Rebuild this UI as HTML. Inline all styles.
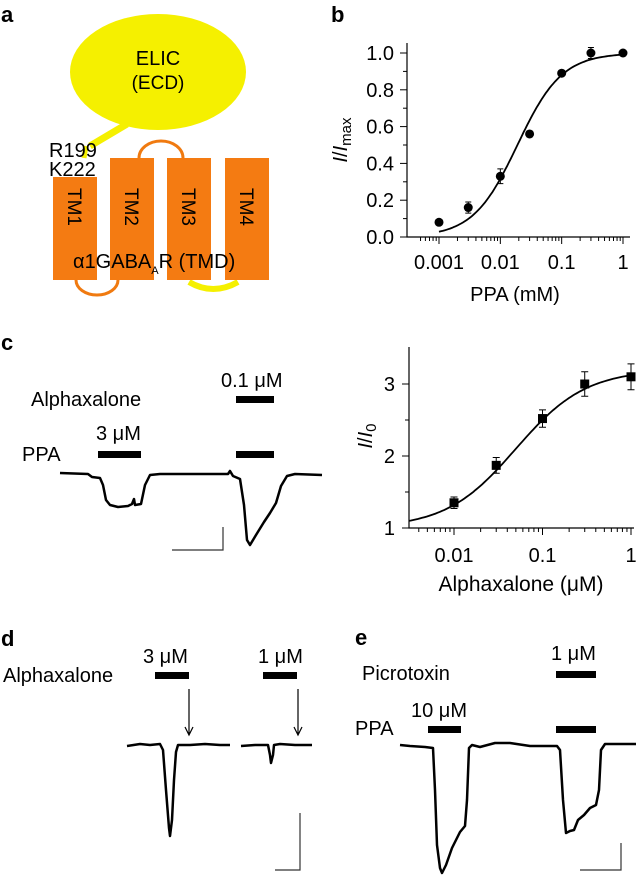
<!DOCTYPE html>
<html><head><meta charset="utf-8"><style>
body{margin:0;background:#fff;}
svg{display:block;font-family:"Liberation Sans",sans-serif;}
</style></head><body>
<svg id="fig" width="636" height="877" viewBox="0 0 636 877" xmlns="http://www.w3.org/2000/svg">
<!-- Panel a -->
<g>
<text x="1" y="22" font-size="22" font-weight="bold">a</text>
<path d="M127,124 L90,146" stroke="#f5f000" stroke-width="7" fill="none"/>
<path d="M86,146 L84,158" stroke="#f5f000" stroke-width="5" fill="none"/>
<ellipse cx="158" cy="72" rx="88" ry="58" fill="#f5f000"/>
<text x="158" y="65" font-size="20" text-anchor="middle">ELIC</text>
<text x="158" y="89" font-size="19" text-anchor="middle">(ECD)</text>
<path d="M139,158 A22,17 0 0 1 183,158" stroke="#f07a10" stroke-width="3" fill="none"/>
<path d="M76,280 A21,15 0 0 0 118,280" stroke="#f07a10" stroke-width="3" fill="none"/>
<path d="M189,282 Q213,296 238,282" stroke="#f5f000" stroke-width="6" fill="none"/>
<rect x="53" y="177" width="44" height="103" fill="#f47b12"/>
<rect x="110" y="158" width="44" height="122" fill="#f47b12"/>
<rect x="167" y="158" width="44" height="122" fill="#f47b12"/>
<rect x="225" y="158" width="44" height="122" fill="#f47b12"/>
<text transform="translate(68,207) rotate(90)" font-size="19" text-anchor="middle">TM1</text>
<text transform="translate(125,207) rotate(90)" font-size="19" text-anchor="middle">TM2</text>
<text transform="translate(182,207) rotate(90)" font-size="19" text-anchor="middle">TM3</text>
<text transform="translate(240,207) rotate(90)" font-size="19" text-anchor="middle">TM4</text>
<text x="49" y="157" font-size="20">R199</text>
<text x="49" y="176" font-size="20">K222</text>
<text x="73" y="268" font-size="20">α1GABA<tspan font-size="11" dy="6">A</tspan><tspan dy="-6">R (TMD)</tspan></text>
</g>
<!-- Panel b -->
<g id="pb">
<text x="331" y="22" font-size="22" font-weight="bold">b</text>
<text transform="translate(347,140) rotate(-90)" font-size="20" text-anchor="middle"><tspan font-style="italic">I</tspan>/<tspan font-style="italic">I</tspan><tspan font-size="15" dy="4">max</tspan></text>
<text x="515" y="301" font-size="20" text-anchor="middle">PPA (mM)</text>
</g>
<!-- Panel c -->
<g>
<text x="1" y="350" font-size="22" font-weight="bold">c</text>
<text x="31" y="406" font-size="20">Alphaxalone</text>
<text x="221" y="387" font-size="20">0.1 μM</text>
<text x="96" y="440" font-size="20">3 μM</text>
<text x="22" y="461" font-size="20">PPA</text>
<rect x="236" y="396" width="38" height="7" fill="#000"/>
<rect x="98" y="451" width="43" height="7" fill="#000"/>
<rect x="236" y="451" width="38" height="7" fill="#000"/>
<polyline fill="none" stroke="#000" stroke-width="2.5" stroke-linejoin="round"
points="60,473 88,474 92,477 100,478 103,485 106,500 110,505 118,507 128,506 132,504 134,499 135,505 141,504 145,485 150,475 160,474 200,474 228,474 230,471 233,476 240,479 244,505 247,540 250,545 256,535 264,522 270,513 276,503 281,486 287,476 295,474 322,475"/>
<path d="M172,550 L223,550 L223,527" stroke="#333" stroke-width="1.2" fill="none"/>
<g id="pc">
<text transform="translate(372,436) rotate(-90)" font-size="20" text-anchor="middle"><tspan font-style="italic">I</tspan>/<tspan font-style="italic">I</tspan><tspan font-size="15" dy="4">0</tspan></text>
<text x="521" y="591" font-size="21" text-anchor="middle">Alphaxalone (μM)</text>
</g>
</g>
<!-- Panel d -->
<g>
<text x="1" y="646" font-size="22" font-weight="bold">d</text>
<text x="3" y="682" font-size="20">Alphaxalone</text>
<text x="143" y="663" font-size="20">3 μM</text>
<text x="258" y="663" font-size="20">1 μM</text>
<rect x="155" y="672" width="34" height="7" fill="#000"/>
<rect x="263" y="672" width="34" height="7" fill="#000"/>
<path d="M189,689 L189,734 M185,727 L189,735 L193,727" stroke="#000" stroke-width="1.2" fill="none"/>
<path d="M298,689 L298,734 M294,727 L298,735 L302,727" stroke="#000" stroke-width="1.2" fill="none"/>
<polyline fill="none" stroke="#000" stroke-width="2.5" stroke-linejoin="round"
points="127,746 140,744 150,745 160,744 163,750 166,790 169,828 170,836 172,820 174,780 176,752 178,745 190,745 205,744 220,745 230,745"/>
<polyline fill="none" stroke="#000" stroke-width="2.5" stroke-linejoin="round"
points="241,746 255,745 268,745 270,755 271,763 273,755 274,745 280,744 295,745 312,745"/>
<path d="M275,870 L300,870 L300,813" stroke="#333" stroke-width="1.2" fill="none"/>
</g>
<!-- Panel e -->
<g>
<text x="355" y="645" font-size="22" font-weight="bold">e</text>
<text x="362" y="680" font-size="20">Picrotoxin</text>
<text x="551" y="660" font-size="20">1 μM</text>
<text x="411" y="717" font-size="20">10 μM</text>
<text x="355" y="735" font-size="20">PPA</text>
<rect x="556" y="671" width="40" height="7" fill="#000"/>
<rect x="428" y="726" width="33" height="7" fill="#000"/>
<rect x="556" y="726" width="40" height="7" fill="#000"/>
<polyline fill="none" stroke="#000" stroke-width="2.5" stroke-linejoin="round"
points="400,745 410,746 425,747 433,748 435,790 437,845 440,868 442,873 446,865 452,848 460,832 465,826 467,800 469,748 472,745 480,747 495,743 510,743 530,746 557,746 560,750 563,800 566,833 570,831 574,830 578,820 584,815 590,808 596,805 599,790 601,750 605,744 620,744 636,744"/>
<path d="M580,870 L621,870 L621,843" stroke="#333" stroke-width="1.2" fill="none"/>
</g>
</svg>
<script>
const NS="http://www.w3.org/2000/svg";
// Panel b data
const bConc=[0.001,0.003,0.01,0.03,0.1,0.3,1];
const bResp=[0.08,0.16,0.33,0.56,0.89,1.0,1.0];
const bErr=[0.01,0.03,0.04,0.01,0.01,0.03,0.01];
const bYTicks=["0.0","0.2","0.4","0.6","0.8","1.0"];
const bXTicks=["0.001","0.01","0.1","1"];
const bFit=[0.019,1.2];
// Panel c data
const cConc=[0.01,0.03,0.1,0.3,1];
const cResp=[1.35,1.87,2.52,3.0,3.1];
const cErr=[0.08,0.11,0.12,0.17,0.18];
const cYTicks=["1","2","3"];
const cXTicks=["0.01","0.1","1"];
const cFit=[1,2.2,0.05,1.1];

function mk(tag,attrs,parent){const e=document.createElementNS(NS,tag);for(const k in attrs)e.setAttribute(k,attrs[k]);parent.appendChild(e);return e;}

// Panel b
(function(){
const g=document.getElementById('pb');
const bx=v=>439+(Math.log10(v)+3)*(184/3);
const by=v=>237-v*184;
let a=mk('path',{d:'M407,43 L407,237 L630,237',stroke:'#000','stroke-width':1.2,fill:'none'},g);


for(let i=0;i<=10;i++){mk('line',{x1:407,x2:i%2?403:400,y1:by(i/10),y2:by(i/10),stroke:'#000','stroke-width':1},g);}
bYTicks.forEach(t=>{const e=mk('text',{x:394,y:by(+t)+7,'font-size':20,'text-anchor':'end'},g);e.textContent=t;

});
for(let d=-3;d<=0;d++){for(let m=1;m<10;m++){const v=Math.pow(10,d)*m;if(v>1)break;const x=bx(v);
mk('line',{x1:x,x2:x,y1:237,y2:m==1?244:241,stroke:'#000','stroke-width':1},g);}}
for(let m=5;m<10;m++){const x=bx(0.0001*m);mk('line',{x1:x,x2:x,y1:237,y2:241,stroke:'#000'},g);}
bXTicks.forEach(t=>{const e=mk('text',{x:bx(+t),y:269,'font-size':20,'text-anchor':'middle'},g);e.textContent=t;

});
let d='';for(let i=0;i<=100;i++){const lx=-3+i*0.03;const v=Math.pow(10,lx);const y=1/(1+Math.pow(bFit[0]/v,bFit[1]));d+=(i?'L':'M')+bx(v).toFixed(1)+','+by(y).toFixed(1);}
const f=mk('path',{d:d,stroke:'#000','stroke-width':1.8,fill:'none'},g);


bConc.forEach((c,i)=>{const x=bx(c),y=by(bResp[i]),e=bErr[i]*184;
mk('path',{d:`M${x},${y-e}L${x},${y+e}M${x-3},${y-e}L${x+3},${y-e}M${x-3},${y+e}L${x+3},${y+e}`,stroke:'#000','stroke-width':1},g);
const p=mk('circle',{cx:x,cy:y,r:4.5,fill:'#000'},g);

});
})();

// Panel c
(function(){
const g=document.getElementById('pc');
const cx=v=>454+(Math.log10(v)+2)*88.5;
const cy=v=>528-(v-1)*72;
let a=mk('path',{d:'M409,347 L409,528 L634,528',stroke:'#000','stroke-width':1.2,fill:'none'},g);


[1,1.5,2,2.5,3].forEach(v=>mk('line',{x1:409,x2:v%1?405:402,y1:cy(v),y2:cy(v),stroke:'#000'},g));
cYTicks.forEach(t=>{const e=mk('text',{x:395,y:cy(+t)+7,'font-size':20,'text-anchor':'end'},g);e.textContent=t;

});
for(let d=-3;d<=0;d++){for(let m=1;m<10;m++){const v=Math.pow(10,d)*m;if(v>1)break;const x=cx(v);if(x<409)continue;
mk('line',{x1:x,x2:x,y1:528,y2:m==1?535:532,stroke:'#000'},g);}}
cXTicks.forEach(t=>{const e=mk('text',{x:cx(+t),y:562,'font-size':20,'text-anchor':'middle'},g);e.textContent=t;

});
let d='';for(let i=0;i<=100;i++){const lx=-2.51+i*0.0251;const v=Math.pow(10,lx);const y=cFit[0]+cFit[1]/(1+Math.pow(cFit[2]/v,cFit[3]));d+=(i?'L':'M')+cx(v).toFixed(1)+','+cy(y).toFixed(1);}
const f=mk('path',{d:d,stroke:'#000','stroke-width':1.8,fill:'none'},g);


cConc.forEach((c,i)=>{const x=cx(c),y=cy(cResp[i]),e=cErr[i]*72;
mk('path',{d:`M${x},${y-e}L${x},${y+e}M${x-3.5},${y-e}L${x+3.5},${y-e}M${x-3.5},${y+e}L${x+3.5},${y+e}`,stroke:'#000','stroke-width':1},g);
const p=mk('rect',{x:x-4.5,y:y-4.5,width:9,height:9,fill:'#000'},g);

});
})();
</script>
</body></html>
